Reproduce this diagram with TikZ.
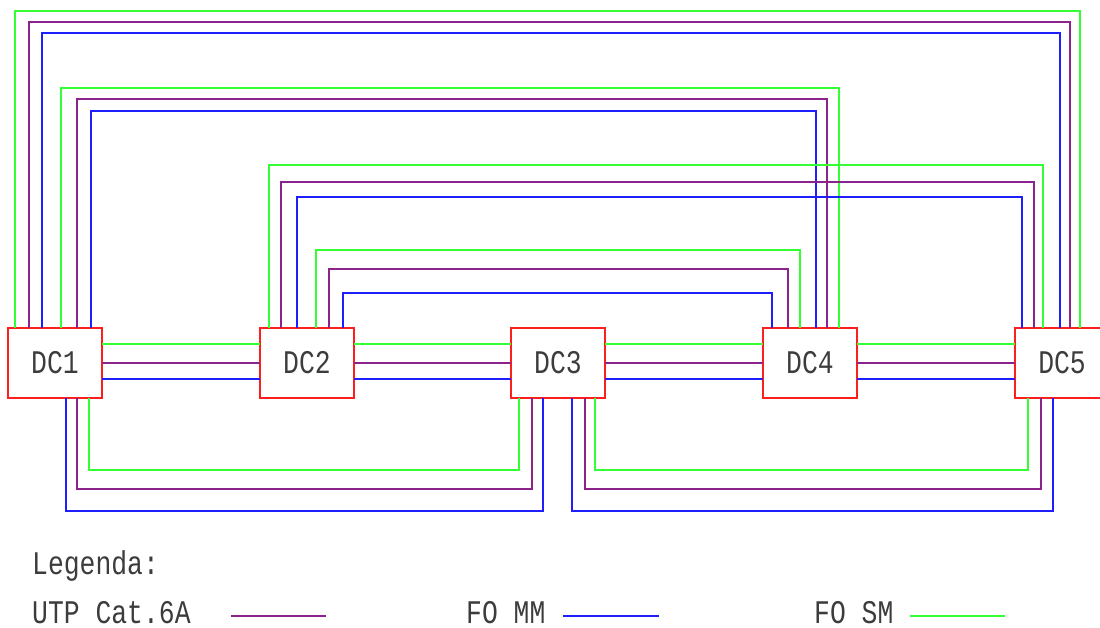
\documentclass[tikz,border=0pt]{standalone}
\usepackage{fontspec}
\newfontfamily\cadfont{Liberation Mono}[FakeStretch=0.8]
\usetikzlibrary{positioning}
\definecolor{cadred}{HTML}{FF1E1E}
\definecolor{cadgreen}{HTML}{33FF33}
\definecolor{cadpurple}{HTML}{8C228C}
\definecolor{cadblue}{HTML}{1E1EFF}
\definecolor{ink}{HTML}{3C3C3C}

\begin{document}
\begin{tikzpicture}[
  x=1pt,y=-1pt,
  line cap=butt,line join=miter,
  font=\cadfont\fontsize{33}{36}\selectfont,
  dcbox/.style={draw=cadred,line width=1.4pt,minimum width=94pt,minimum height=70pt,
                inner sep=0pt,outer sep=0pt,text=ink},
  utp/.style={draw=cadpurple,line width=1.4pt},
  fomm/.style={draw=cadblue,line width=1.4pt},
  fosm/.style={draw=cadgreen,line width=1.4pt},
  legtext/.style={text=ink,inner sep=0pt}
]
\useasboundingbox (0,0) rectangle (1100,628);

% data centres
\node[dcbox] (dc1) at (55,363) {DC1};
\node[dcbox,right=158pt of dc1] (dc2) {DC2};
\node[dcbox,right=157pt of dc2] (dc3) {DC3};
\node[dcbox,right=158pt of dc3] (dc4) {DC4};
\node[dcbox,right=158pt of dc4] (dc5) {DC5};

% neighbour links
\foreach \a/\b in {dc1/dc2,dc2/dc3,dc3/dc4,dc4/dc5}{
  \draw[fosm] ([yshift=19pt]\a.east) -- ([yshift=19pt]\b.west);
  \draw[utp] (\a.east) -- (\b.west);
  \draw[fomm] ([yshift=-16pt]\a.east) -- ([yshift=-16pt]\b.west);
}

% upper rings
\foreach \s/\p/\h/\q in {fosm/7/317/65,utp/21/306/55,fomm/34/295/45}
  \draw[\s] ([xshift=\p pt]dc1.north west) -- ++(0,-\h) -| ([xshift=\q pt]dc5.north west);
\foreach \s/\p/\h/\q in {fosm/53/240/76,utp/69/229/64,fomm/83/217/53}
  \draw[\s] ([xshift=\p pt]dc1.north west) -- ++(0,-\h) -| ([xshift=\q pt]dc4.north west);
\foreach \s/\p/\h/\q in {fosm/9/163/28,utp/21/146/19,fomm/37/131/7}
  \draw[\s] ([xshift=\p pt]dc2.north west) -- ++(0,-\h) -| ([xshift=\q pt]dc5.north west);
\foreach \s/\p/\h/\q in {fosm/56/78/37,utp/69/59/25,fomm/83/35/9}
  \draw[\s] ([xshift=\p pt]dc2.north west) -- ++(0,-\h) -| ([xshift=\q pt]dc4.north west);

% lower rings
\foreach \s/\p/\h/\q in {fosm/81/72/8,utp/69/91/21,fomm/58/113/32}
  \draw[\s] ([xshift=\p pt]dc1.south west) -- ++(0,\h) -| ([xshift=\q pt]dc3.south west);
\foreach \s/\p/\h/\q in {fosm/84/72/13,utp/74/91/26,fomm/61/113/38}
  \draw[\s] ([xshift=\p pt]dc3.south west) -- ++(0,\h) -| ([xshift=\q pt]dc5.south west);

% legend
\node[legtext,anchor=base west] (legenda) at (32,574) {Legenda:};
\node[legtext,anchor=west] (utplbl) at (32,613) {UTP Cat.6A};
\node[legtext,anchor=west] (mmlbl) at (466,613) {FO MM};
\node[legtext,anchor=west] (smlbl) at (814,613) {FO SM};
\draw[utp] (231,616) -- (326,616);
\draw[fomm] (563,616) -- (659,616);
\draw[fosm] (910,616) -- (1005,616);
\end{tikzpicture}
\end{document}
